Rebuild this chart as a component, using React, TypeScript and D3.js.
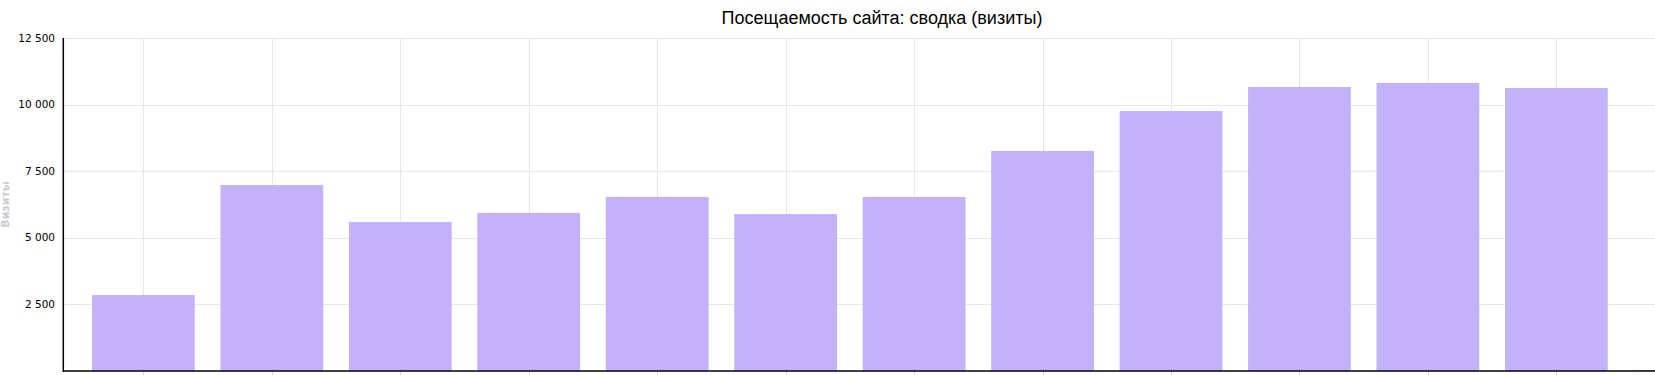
import React from "react";
import * as d3 from "d3";

const title = "Посещаемость сайта: сводка (визиты)";
const yAxisTitle = "Визиты";
const categories = [
  "Янв", "Фев", "Мар", "Апр", "Май", "Июн", "Июл",
  "Авг", "Сен", "Окт", "Ноя", "Дек", "Янв 2",
];
const visits = [2850, 6980, 5590, 5930, 6530, 5890, 6530, 8260, 9760, 10660, 10810, 10620, 40];
const yTicks = [2500, 5000, 7500, 10000, 12500];

const W = 1655;
const H = 375;
const left = 63.3;
const top = 38;
const bottom = 371;

export default function App() {
  const x = d3
    .scaleBand<string>()
    .domain(categories)
    .range([left, 1764.9])
    .paddingInner(0.2)
    .paddingOuter(0.2234);
  const y = d3.scaleLinear().domain([0, 12500]).range([bottom, top]);
  const fmt = d3.formatLocale({ decimal: ",", thousands: " ", grouping: [3], currency: ["", ""] }).format(",d");
  const bw = x.bandwidth();

  return (
    <svg
      width={W}
      height={H}
      style={{ position: "fixed", left: 0, top: 0, background: "#fff" }}
    >
      <rect x={0} y={0} width={W} height={H} fill="#fff" />
      {yTicks.map((t) => (
        <line key={"h" + t} x1={left} x2={W} y1={Math.round(y(t)) + 0.5} y2={Math.round(y(t)) + 0.5} stroke="#e6e6e6" strokeWidth={1} />
      ))}
      {categories.map((c) => {
        const cx = Math.round((x(c) as number) + bw / 2) + 0.5;
        return <line key={"v" + c} x1={cx} x2={cx} y1={top} y2={bottom} stroke="#e6e6e6" strokeWidth={1} />;
      })}
      {categories.map((c, i) => (
        <rect
          key={"b" + c}
          x={x(c) as number}
          y={y(visits[i])}
          width={bw}
          height={bottom - y(visits[i])}
          fill="#c3b1f9"
        />
      ))}
      {categories.map((c) => {
        const cx = Math.round((x(c) as number) + bw / 2) + 0.5;
        return <line key={"t" + c} x1={cx} x2={cx} y1={bottom} y2={bottom + 10} stroke="#ccd6eb" strokeWidth={1} />;
      })}
      <line x1={left} x2={left} y1={top} y2={bottom + 1} stroke="#000" strokeWidth={1.5} />
      <line x1={left} x2={W} y1={bottom} y2={bottom} stroke="#000" strokeWidth={1.5} />
      {yTicks.map((t) => (
        <text
          key={"l" + t}
          x={55}
          y={y(t)}
          dy="0.35em"
          textAnchor="end"
          fontFamily="'DejaVu Sans', Verdana, sans-serif"
          fontSize={10.5}
          fill="#000"
        >
          {fmt(t)}
        </text>
      ))}
      <text
        transform={`translate(8.5, ${(top + bottom) / 2}) rotate(-90)`}
        textAnchor="middle"
        fontFamily="'DejaVu Sans', Verdana, sans-serif"
        fontWeight="bold"
        fontSize={11}
        fill="#cccccc"
      >
        {yAxisTitle}
      </text>
      <text
        x={882}
        y={24}
        textAnchor="middle"
        fontFamily="'Liberation Sans', Arial, sans-serif"
        fontSize={18}
        fill="#000"
      >
        {title}
      </text>
    </svg>
  );
}
